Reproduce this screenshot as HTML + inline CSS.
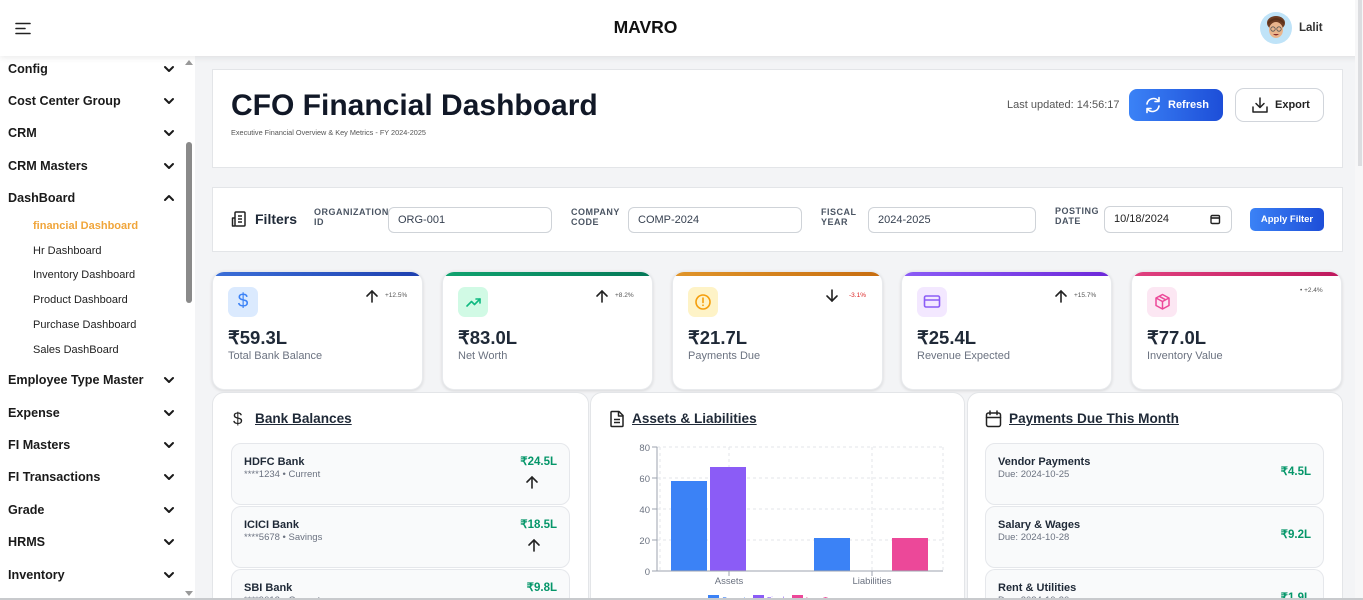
<!DOCTYPE html>
<html><head><meta charset="utf-8">
<style>
*{box-sizing:border-box;margin:0;padding:0}
html,body{width:1363px;height:600px;overflow:hidden;background:#f3f4f6;font-family:"Liberation Sans",Arial,sans-serif;color:#1f2937}
#root{position:relative;width:1363px;height:600px;overflow:hidden;background:#f3f4f6}
.a{position:absolute}
.header{left:0;top:0;width:1363px;height:56px;background:#fff;box-shadow:0 2px 6px rgba(0,0,0,.08);z-index:5}
.sidebar{left:0;top:56px;width:195px;height:544px;background:#fff;border-right:1px solid #eceef1}
.si{position:absolute;left:8px;height:20px;line-height:20px;font-weight:bold;font-size:12.6px;color:#1a1a1a;white-space:nowrap}
.sub{position:absolute;left:33px;height:16px;line-height:16px;font-size:11px;color:#222;white-space:nowrap}
.card{background:#fff;border:1px solid #e3e5e8}
.lbl{position:absolute;font-size:9px;font-weight:bold;color:#4b5563;letter-spacing:.5px;line-height:10px}
.inp{position:absolute;height:26px;border:1px solid #cfd3d8;border-radius:6px;background:#fff;font-size:11px;color:#374151;line-height:24px;padding-left:9px}
.kpi{position:absolute;top:271px;width:211px;height:119px;background:#fff;border-radius:12px;box-shadow:0 1px 3px rgba(0,0,0,.12);overflow:hidden;border:1px solid #e8eaed}
.kpi .bar{position:absolute;left:0;top:0;width:100%;height:4px}
.kpi .ib{position:absolute;left:15px;top:15px;width:30px;height:30px;border-radius:7px}
.kpi .val{position:absolute;left:15px;top:55px;font-size:18.5px;font-weight:bold;color:#1f2937;line-height:22px}
.kpi .nm{position:absolute;left:15px;top:77px;font-size:11px;color:#6b7280;line-height:14px;white-space:nowrap}
.kpi .pct{position:absolute;top:20px;font-size:6.5px;color:#555;line-height:8px}
.kpi .arr{position:absolute;left:152px;top:17px;width:14px;height:14px}
.panel{position:absolute;top:392px;height:208px;background:#fff;border:1px solid #e3e5e8;border-bottom:none;border-radius:12px 12px 0 0}
.ptitle{position:absolute;font-size:13.6px;font-weight:bold;color:#1f2937;text-decoration:underline;line-height:16px;white-space:nowrap}
.item{position:absolute;height:62px;background:#f9fafb;border:1px solid #e5e7eb;border-radius:10px;overflow:hidden}
.item.last{height:31px;border-bottom:none;border-radius:10px 10px 0 0}
.item .t{position:absolute;left:12px;top:11px;font-size:11px;font-weight:bold;color:#1f2937;line-height:14px;white-space:nowrap}
.item .s{position:absolute;left:12px;top:25px;font-size:9.5px;color:#6b7280;line-height:12px;white-space:nowrap}
.item .v{position:absolute;right:12px;font-size:11.5px;font-weight:bold;color:#059669;line-height:14px}
</style></head><body>
<div id="root">

<!-- header -->
<div class="a header">
  <svg class="a" style="left:14px;top:20px" width="18" height="16"><g stroke="#222" stroke-width="1.6" stroke-linecap="round"><line x1="2" y1="3.5" x2="16" y2="3.5"/><line x1="2" y1="8.5" x2="11" y2="8.5"/><line x1="2" y1="13.5" x2="16" y2="13.5"/></g></svg>
  <div class="a" style="left:0;width:1291px;top:17px;text-align:center;font-weight:bold;font-size:17.5px;color:#111;line-height:20px">MAVRO</div>
  <svg class="a" style="left:1260px;top:12px" width="32" height="32">
    <circle cx="16" cy="16" r="16" fill="#bfe3f8"/>
    <ellipse cx="16" cy="11" rx="9" ry="7" fill="#6b3b22"/>
    <ellipse cx="16" cy="18" rx="7" ry="8" fill="#e9b48c"/>
    <path d="M8 12 Q16 4 24 12 L24 10 Q16 2 8 10Z" fill="#5a3019"/>
    <circle cx="13" cy="17" r="2.2" fill="none" stroke="#555" stroke-width=".8"/>
    <circle cx="19" cy="17" r="2.2" fill="none" stroke="#555" stroke-width=".8"/>
    <path d="M13 22 Q16 25 19 22" fill="#8a2b2b"/>
  </svg>
  <div class="a" style="left:1299px;top:21px;font-size:11.5px;font-weight:bold;color:#333;line-height:14px">Lalit</div>
</div>

<!-- right scrollbar -->
<div class="a" style="left:1355px;top:0;width:8px;height:600px;background:#f7f7f8;z-index:6"></div>
<div class="a" style="left:1358px;top:0;width:4px;height:166px;background:#dcdde0;z-index:6"></div>

<!-- sidebar -->
<div class="a sidebar">
  <div class="a" style="left:183px;top:0;width:12px;height:544px;background:#fff"></div>
  <svg class="a" style="left:184px;top:2px" width="10" height="8"><path d="M1 7 L5 2 L9 7Z" fill="#999"/></svg>
  <div class="a" style="left:186px;top:86px;width:6px;height:161px;border-radius:3px;background:#8a8a8a"></div>
  <svg class="a" style="left:184px;top:533px" width="10" height="8"><path d="M1 2 L5 7 L9 2Z" fill="#999"/></svg>
</div>
<div class="si" style="top:59px">Config</div>
<div class="si" style="top:91px">Cost Center Group</div>
<div class="si" style="top:123px">CRM</div>
<div class="si" style="top:156px">CRM Masters</div>
<div class="si" style="top:188px">DashBoard</div>
<div class="sub" style="top:218px;color:#f0a53a;font-weight:bold">financial Dashboard</div>
<div class="sub" style="top:243px">Hr Dashboard</div>
<div class="sub" style="top:267px">Inventory Dashboard</div>
<div class="sub" style="top:292px">Product Dashboard</div>
<div class="sub" style="top:317px">Purchase Dashboard</div>
<div class="sub" style="top:342px">Sales DashBoard</div>
<div class="si" style="top:370px">Employee Type Master</div>
<div class="si" style="top:403px">Expense</div>
<div class="si" style="top:435px">FI Masters</div>
<div class="si" style="top:467px">FI Transactions</div>
<div class="si" style="top:500px">Grade</div>
<div class="si" style="top:532px">HRMS</div>
<div class="si" style="top:565px">Inventory</div>
<svg class="a" style="left:0;top:0" width="195" height="600">
  <g fill="none" stroke="#1a1a1a" stroke-width="2" stroke-linecap="round" stroke-linejoin="round">
    <polyline points="165,67 169,71 173,67"/>
    <polyline points="165,99 169,103 173,99"/>
    <polyline points="165,131 169,135 173,131"/>
    <polyline points="165,164 169,168 173,164"/>
    <polyline points="165,200 169,196 173,200"/>
    <polyline points="165,378 169,382 173,378"/>
    <polyline points="165,411 169,415 173,411"/>
    <polyline points="165,443 169,447 173,443"/>
    <polyline points="165,475 169,479 173,475"/>
    <polyline points="165,508 169,512 173,508"/>
    <polyline points="165,540 169,544 173,540"/>
    <polyline points="165,573 169,577 173,573"/>
  </g>
</svg>

<!-- title card -->
<div class="a card" style="left:212px;top:69px;width:1131px;height:99px"></div>
<div class="a" style="left:231px;top:88px;font-size:30px;font-weight:bold;color:#111827;line-height:36px;white-space:nowrap">CFO Financial Dashboard</div>
<div class="a" style="left:231px;top:129px;font-size:7.3px;color:#555;line-height:8px;white-space:nowrap">Executive Financial Overview &amp; Key Metrics - FY 2024-2025</div>
<div class="a" style="left:1007px;top:98px;font-size:11px;color:#555;line-height:14px;white-space:nowrap">Last updated: 14:56:17</div>
<div class="a" style="left:1129px;top:89px;width:94px;height:32px;border-radius:8px;background:linear-gradient(90deg,#3b82f6,#1d4ed8)"></div>
<svg class="a" style="left:1144px;top:96px" width="18" height="18"><g fill="none" stroke="#fff" stroke-width="1.6" stroke-linecap="round" stroke-linejoin="round"><path d="M3 8 A6.5 6.5 0 0 1 14.5 5"/><polyline points="15,1.5 15,5.5 11,5.5"/><path d="M15 10 A6.5 6.5 0 0 1 3.5 13"/><polyline points="3,16.5 3,12.5 7,12.5"/></g></svg>
<div class="a" style="left:1168px;top:98px;font-size:11px;font-weight:bold;color:#fff;line-height:14px">Refresh</div>
<div class="a" style="left:1235px;top:88px;width:89px;height:34px;border-radius:9px;background:#fff;border:1px solid #d1d5db"></div>
<svg class="a" style="left:1251px;top:96px" width="18" height="18"><g fill="none" stroke="#222" stroke-width="1.5" stroke-linecap="round" stroke-linejoin="round"><line x1="9" y1="2" x2="9" y2="11"/><polyline points="5,7.5 9,11.5 13,7.5"/><polyline points="2,11 2,16 16,16 16,11"/></g></svg>
<div class="a" style="left:1275px;top:98px;font-size:11px;font-weight:bold;color:#222;line-height:14px">Export</div>

<!-- filter card -->
<div class="a card" style="left:212px;top:187px;width:1131px;height:65px"></div>
<svg class="a" style="left:231px;top:210px" width="17" height="18"><g fill="none" stroke="#222" stroke-width="1.5" stroke-linejoin="round"><rect x="4" y="2" width="10" height="14" rx="1"/><path d="M4 8 H1.5 V16 H4"/><line x1="7" y1="6" x2="11" y2="6"/><line x1="7" y1="9" x2="11" y2="9"/><line x1="7" y1="12" x2="11" y2="12"/></g></svg>
<div class="a" style="left:255px;top:211px;font-size:14px;font-weight:bold;color:#1f2937;line-height:16px">Filters</div>
<div class="lbl" style="left:314px;top:207px">ORGANIZATION<br>ID</div>
<div class="inp" style="left:388px;top:207px;width:164px">ORG-001</div>
<div class="lbl" style="left:571px;top:207px">COMPANY<br>CODE</div>
<div class="inp" style="left:628px;top:207px;width:174px">COMP-2024</div>
<div class="lbl" style="left:821px;top:207px">FISCAL<br>YEAR</div>
<div class="inp" style="left:868px;top:207px;width:168px">2024-2025</div>
<div class="lbl" style="left:1055px;top:206px">POSTING<br>DATE</div>
<div class="inp" style="left:1104px;top:206px;width:128px;height:27px;line-height:25px;color:#222">10/18/2024</div>
<svg class="a" style="left:1210px;top:214px" width="11" height="11"><rect x="1" y="1.5" width="8.5" height="8" rx="1.2" fill="none" stroke="#222" stroke-width="1.4"/><line x1="1" y1="4" x2="9.5" y2="4" stroke="#222" stroke-width="1.6"/></svg>
<div class="a" style="left:1250px;top:208px;width:74px;height:23px;border-radius:5px;background:linear-gradient(90deg,#3b82f6,#1d4ed8);color:#fff;font-size:9.5px;font-weight:bold;text-align:center;line-height:23px">Apply Filter</div>

<!-- KPI cards -->
<div class="kpi" style="left:212px">
  <div class="bar" style="background:linear-gradient(90deg,#3b6fd8,#1e40af)"></div>
  <div class="ib" style="background:#dbeafe;color:#3b82f6;font-size:19px;text-align:center;line-height:30px">$</div>
  <svg class="arr" viewBox="0 0 14 14"><g fill="none" stroke="#222" stroke-width="1.6" stroke-linecap="round"><line x1="7" y1="2" x2="7" y2="13"/><polyline points="2,7 7,2 12,7"/></g></svg>
  <div class="pct" style="left:172px">+12.5%</div>
  <div class="val">₹59.3L</div><div class="nm">Total Bank Balance</div>
</div>
<div class="kpi" style="left:442px">
  <div class="bar" style="background:linear-gradient(90deg,#10a36f,#047857)"></div>
  <div class="ib" style="background:#d1fae5"></div>
  <svg class="a" style="left:23px;top:24px" width="16" height="12"><g fill="none" stroke="#10b981" stroke-width="1.6" stroke-linecap="round" stroke-linejoin="round"><polyline points="1,10 5.5,5.5 8.5,8.5 14,3"/><polyline points="10,3 14,3 14,7"/></g></svg>
  <svg class="arr" viewBox="0 0 14 14"><g fill="none" stroke="#222" stroke-width="1.6" stroke-linecap="round"><line x1="7" y1="2" x2="7" y2="13"/><polyline points="2,7 7,2 12,7"/></g></svg>
  <div class="pct" style="left:172px">+8.2%</div>
  <div class="val">₹83.0L</div><div class="nm">Net Worth</div>
</div>
<div class="kpi" style="left:672px">
  <div class="bar" style="background:linear-gradient(90deg,#e0952a,#c76d10)"></div>
  <div class="ib" style="background:#fef3c7"></div>
  <svg class="a" style="left:21px;top:21px" width="18" height="18"><circle cx="9" cy="9" r="7" fill="none" stroke="#f59e0b" stroke-width="1.6"/><line x1="9" y1="5" x2="9" y2="9.5" stroke="#f59e0b" stroke-width="1.6" stroke-linecap="round"/><circle cx="9" cy="12.3" r=".9" fill="#f59e0b"/></svg>
  <svg class="arr" viewBox="0 0 14 14"><g fill="none" stroke="#222" stroke-width="1.6" stroke-linecap="round"><line x1="7" y1="1" x2="7" y2="12"/><polyline points="2,7 7,12 12,7"/></g></svg>
  <div class="pct" style="left:176px;color:#dc2626">-3.1%</div>
  <div class="val">₹21.7L</div><div class="nm">Payments Due</div>
</div>
<div class="kpi" style="left:901px">
  <div class="bar" style="background:linear-gradient(90deg,#8b5cf6,#6d28d9)"></div>
  <div class="ib" style="background:#f3e8ff"></div>
  <svg class="a" style="left:21px;top:22px" width="18" height="16"><rect x="1.5" y="2" width="15" height="11" rx="1.5" fill="none" stroke="#8b5cf6" stroke-width="1.6"/><line x1="1.5" y1="6" x2="16.5" y2="6" stroke="#8b5cf6" stroke-width="1.6"/></svg>
  <svg class="arr" viewBox="0 0 14 14"><g fill="none" stroke="#222" stroke-width="1.6" stroke-linecap="round"><line x1="7" y1="2" x2="7" y2="13"/><polyline points="2,7 7,2 12,7"/></g></svg>
  <div class="pct" style="left:172px">+15.7%</div>
  <div class="val">₹25.4L</div><div class="nm">Revenue Expected</div>
</div>
<div class="kpi" style="left:1131px">
  <div class="bar" style="background:linear-gradient(90deg,#e0417f,#be185d)"></div>
  <div class="ib" style="background:#fce7f3"></div>
  <svg class="a" style="left:22px;top:21px" width="17" height="18"><g fill="none" stroke="#ec4899" stroke-width="1.5" stroke-linejoin="round"><path d="M8.5 1.5 L15 5 L15 12.5 L8.5 16 L2 12.5 L2 5Z"/><polyline points="2,5 8.5,8.5 15,5"/><line x1="8.5" y1="8.5" x2="8.5" y2="16"/><line x1="5" y1="3.2" x2="11.7" y2="6.8"/></g></svg>
  <div class="pct" style="left:168px;top:15px">•&nbsp;+2.4%</div>
  <div class="val">₹77.0L</div><div class="nm">Inventory Value</div>
</div>

<!-- panels -->
<div class="panel" style="left:212px;width:377px"></div>
<div class="panel" style="left:590px;width:375px"></div>
<div class="panel" style="left:967px;width:376px"></div>

<!-- panel 1 -->
<div class="a" style="left:233px;top:408px;font-size:17px;color:#222;line-height:22px">$</div>
<div class="ptitle" style="left:255px;top:411px">Bank Balances</div>
<div class="item" style="left:231px;top:443px;width:339px"><div class="t">HDFC Bank</div><div class="s">****1234 • Current</div><div class="v" style="top:11px">₹24.5L</div>
<svg class="a" style="left:293px;top:31px" width="14" height="14"><g fill="none" stroke="#222" stroke-width="1.6" stroke-linecap="round"><line x1="7" y1="2" x2="7" y2="13"/><polyline points="2,7 7,2 12,7"/></g></svg></div>
<div class="item" style="left:231px;top:506px;width:339px"><div class="t">ICICI Bank</div><div class="s">****5678 • Savings</div><div class="v" style="top:11px">₹18.5L</div>
<svg class="a" style="left:295px;top:31px" width="14" height="14"><g fill="none" stroke="#222" stroke-width="1.6" stroke-linecap="round"><line x1="7" y1="2" x2="7" y2="13"/><polyline points="2,7 7,2 12,7"/></g></svg></div>
<div class="item last" style="left:231px;top:569px;width:339px"><div class="t">SBI Bank</div><div class="s">****9012 • Current</div><div class="v" style="top:11px">₹9.8L</div></div>

<!-- panel 2 -->
<svg class="a" style="left:609px;top:410px" width="16" height="18"><g fill="none" stroke="#222" stroke-width="1.5" stroke-linejoin="round"><path d="M2 2.5 Q2 1.5 3 1.5 L10 1.5 L14 5.5 L14 15.5 Q14 16.5 13 16.5 L3 16.5 Q2 16.5 2 15.5Z"/><polyline points="9.5,1.5 9.5,6 14,6"/><line x1="5" y1="9.5" x2="11" y2="9.5"/><line x1="5" y1="12.5" x2="11" y2="12.5"/></g></svg>
<div class="ptitle" style="left:632px;top:411px">Assets &amp; Liabilities</div>
<svg class="a" style="left:590px;top:392px" width="374" height="206" font-family="Liberation Sans, Arial, sans-serif">
  <g stroke="#e3e6ea" stroke-width="1" stroke-dasharray="3,3" fill="none">
    <line x1="67" y1="55" x2="353" y2="55"/>
    <line x1="67" y1="86" x2="353" y2="86"/>
    <line x1="67" y1="117" x2="353" y2="117"/>
    <line x1="67" y1="148" x2="353" y2="148"/>
    <line x1="70" y1="55" x2="70" y2="179"/>
    <line x1="139" y1="55" x2="139" y2="179"/>
    <line x1="282" y1="55" x2="282" y2="179"/>
    <line x1="353" y1="55" x2="353" y2="179"/>
  </g>
  <rect x="81" y="89" width="36" height="90" fill="#3b82f6"/>
  <rect x="120" y="75" width="36" height="104" fill="#8b5cf6"/>
  <rect x="224" y="146" width="36" height="33" fill="#3b82f6"/>
  <rect x="302" y="146" width="36" height="33" fill="#ec4899"/>
  <g stroke="#9ca3af" stroke-width="1">
    <line x1="67" y1="55" x2="67" y2="179"/>
    <line x1="67" y1="179" x2="353" y2="179"/>
    <line x1="62" y1="55" x2="67" y2="55"/><line x1="62" y1="86" x2="67" y2="86"/><line x1="62" y1="117" x2="67" y2="117"/><line x1="62" y1="148" x2="67" y2="148"/><line x1="62" y1="179" x2="67" y2="179"/>
    <line x1="139" y1="179" x2="139" y2="184"/><line x1="282" y1="179" x2="282" y2="184"/>
  </g>
  <g fill="#6b7280" font-size="9.5" text-anchor="end">
    <text x="60" y="59">80</text><text x="60" y="90">60</text><text x="60" y="121">40</text><text x="60" y="152">20</text><text x="60" y="183">0</text>
  </g>
  <g fill="#6b7280" font-size="9.5" text-anchor="middle">
    <text x="139" y="192">Assets</text><text x="282" y="192">Liabilities</text>
  </g>
  <rect x="118" y="203" width="11" height="8" fill="#3b82f6"/><text x="132" y="210" font-size="7" fill="#3b82f6">Current</text>
  <rect x="163" y="203" width="11" height="8" fill="#8b5cf6"/><text x="177" y="210" font-size="7" fill="#8b5cf6">Fixed</text>
  <rect x="202" y="203" width="11" height="8" fill="#ec4899"/><text x="216" y="210" font-size="7" fill="#ec4899">Long Term</text>
</svg>

<!-- panel 3 -->
<svg class="a" style="left:985px;top:410px" width="17" height="18"><g fill="none" stroke="#222" stroke-width="1.5" stroke-linejoin="round" stroke-linecap="round"><rect x="1.5" y="3" width="14" height="13.5" rx="2"/><line x1="1.5" y1="7.5" x2="15.5" y2="7.5"/><line x1="5" y1="1" x2="5" y2="4.5"/><line x1="12" y1="1" x2="12" y2="4.5"/></g></svg>
<div class="ptitle" style="left:1009px;top:411px">Payments Due This Month</div>
<div class="item" style="left:985px;top:443px;width:339px"><div class="t">Vendor Payments</div><div class="s">Due: 2024-10-25</div><div class="v" style="top:21px">₹4.5L</div></div>
<div class="item" style="left:985px;top:506px;width:339px"><div class="t">Salary &amp; Wages</div><div class="s">Due: 2024-10-28</div><div class="v" style="top:21px">₹9.2L</div></div>
<div class="item last" style="left:985px;top:569px;width:339px"><div class="t">Rent &amp; Utilities</div><div class="s">Due: 2024-10-30</div><div class="v" style="top:21px">₹1.9L</div></div>

<!-- bottom edge -->
<div class="a" style="left:0;top:598px;width:1363px;height:2px;background:#c8cacd;z-index:7"></div>
</div>
</body></html>
